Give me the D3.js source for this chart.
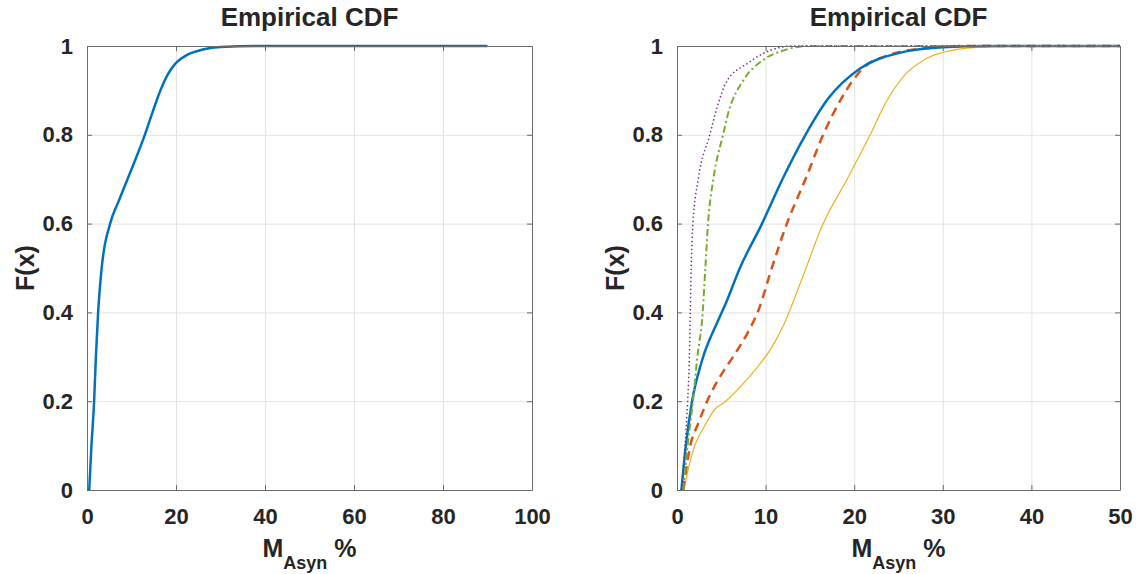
<!DOCTYPE html>
<html>
<head>
<meta charset="utf-8">
<script src="https://cdn.jsdelivr.net/npm/d3@7"></script>
<style>
  body { margin: 0; background: #fff; }
  svg text { font-family: "Liberation Sans", Arial, sans-serif; font-weight: bold; fill: #262626; }
  .grid line { stroke: #e3e3e3; stroke-width: 1; }
  .grid path { stroke: none; }
  .axis path, .axis line { stroke: #6b6b6b; }
  .axis text { font-size: 22px; }
</style>
</head>
<body>
<div id="chart"></div>
<script>
// ---- data: [x, F(x)] ----
var yTicks = [0, 0.2, 0.4, 0.6, 0.8, 1];
var xTicksLeft = [0, 20, 40, 60, 80, 100];
var xTicksRight = [0, 10, 20, 30, 40, 50];

var cdfAll = [[0.5,0],[1.0,0.1],[1.6,0.2],[2.0,0.3],[2.5,0.4],[3.3,0.5],[5.2,0.6],[7.1,0.65],[9.1,0.7],
  [11.1,0.75],[13,0.8],[14.7,0.85],[16.5,0.9],[18.1,0.935],[20,0.962],[22.5,0.98],[26,0.992],[30,0.998],[40,1],[90,1]];

var cdfBlue = [[0.5,0],[1.0,0.1],[1.7,0.2],[2.8,0.29],[4.6,0.38],[5.5,0.42],[7.1,0.5],[9.6,0.6],[11.9,0.7],
  [14.5,0.8],[17,0.88],[20.7,0.95],[25,0.984],[30,0.997],[35,1],[50,1]];
var cdfRed = [[0.7,0],[1.5,0.1],[2.4,0.15],[3.4,0.2],[5,0.26],[6.5,0.305],[8,0.355],[9.2,0.405],[10.7,0.5],
  [12.4,0.6],[14.5,0.7],[16.5,0.8],[18.5,0.88],[21,0.95],[24,0.98],[28,0.995],[32,1],[50,1]];
var cdfYellow = [[0.8,0],[1.3,0.05],[2,0.1],[3,0.14],[4.2,0.18],[5.5,0.2],[7.5,0.24],[9,0.275],[10.5,0.315],
  [12,0.37],[14,0.47],[16.5,0.6],[19.2,0.7],[21.8,0.8],[23.5,0.87],[25.5,0.93],[28,0.97],[31,0.99],[35,0.998],[40,1],[50,1]];
var cdfPurple = [[0.5,0],[0.9,0.1],[1.2,0.2],[1.4,0.3],[1.5,0.4],[1.6,0.5],[1.8,0.6],[2.4,0.7],[3.7,0.8],
  [4.5,0.86],[5.6,0.92],[7.9,0.96],[10.5,0.99],[13,1],[50,1]];
var cdfGreen = [[0.7,0],[1.2,0.1],[1.8,0.2],[2.3,0.3],[2.9,0.4],[3.2,0.5],[3.5,0.6],[4.1,0.7],[5.2,0.8],
  [5.8,0.85],[7.5,0.923],[9.7,0.968],[12,0.99],[15,1],[50,1]];

var W = 1141, H = 574;
var svg = d3.select('#chart').append('svg').attr('width', W).attr('height', H);

function drawPanel(opts) {
    var left = opts.left, right = opts.right, top = 46, bottom = 490;
    var x = d3.scaleLinear().domain(opts.xDomain).range([left, right]);
    var y = d3.scaleLinear().domain([0, 1]).range([bottom, top]);

    // grid
    svg.append('g').attr('class', 'grid')
        .attr('transform', 'translate(0,' + bottom + ')')
        .call(d3.axisBottom(x).tickValues(opts.xTicks).tickSize(-(bottom - top)).tickFormat(''));
    svg.append('g').attr('class', 'grid')
        .attr('transform', 'translate(' + left + ',0)')
        .call(d3.axisLeft(y).tickValues(yTicks).tickSize(-(right - left)).tickFormat(''));

    var line = d3.line()
        .x(function(d) { return x(d[0]); })
        .y(function(d) { return y(d[1]); })
        .curve(d3.curveMonotoneX);

    opts.series.forEach(function(s) {
        svg.append('path')
            .datum(s.data)
            .attr('fill', 'none')
            .attr('stroke', s.color)
            .attr('stroke-width', s.width)
            .attr('stroke-dasharray', s.dash || null)
            .attr('stroke-linejoin', 'round')
            .attr('d', line);
    });

    // axes (ticks pointing inward) + box
    var ax = svg.append('g').attr('class', 'axis')
        .attr('transform', 'translate(0,' + bottom + ')')
        .call(d3.axisBottom(x).tickValues(opts.xTicks).tickSizeInner(-5).tickSizeOuter(0));
    ax.selectAll('text').attr('dy', '0.35em').attr('y', 26);
    svg.append('g').attr('class', 'axis')
        .attr('transform', 'translate(' + left + ',0)')
        .call(d3.axisLeft(y).tickValues(yTicks).tickSizeInner(-5).tickSizeOuter(0).tickPadding(14)
            .tickFormat(d3.format('')));
    svg.append('g').attr('class', 'axis')
        .attr('transform', 'translate(0,' + top + ')')
        .call(d3.axisTop(x).tickValues(opts.xTicks).tickSizeInner(-5).tickSizeOuter(0).tickFormat(''));
    svg.append('g').attr('class', 'axis')
        .attr('transform', 'translate(' + right + ',0)')
        .call(d3.axisRight(y).tickValues(yTicks).tickSizeInner(-5).tickSizeOuter(0).tickFormat(''));

    var cx = (left + right) / 2;
    svg.append('text').attr('x', cx).attr('y', 26).attr('text-anchor', 'middle')
        .style('font-size', '26px').text('Empirical CDF');

    svg.append('text')
        .attr('transform', 'translate(' + (left - 62) + ',' + ((top + bottom) / 2) + ') rotate(-90)')
        .attr('text-anchor', 'middle').attr('dominant-baseline', 'central')
        .style('font-size', '25px').text('F(x)');

    var xl = svg.append('text').attr('x', cx).attr('y', 557).attr('text-anchor', 'middle')
        .style('font-size', '25px');
    xl.append('tspan').text('M');
    xl.append('tspan').attr('dy', 12).style('font-size', '18px').text('Asyn');
    xl.append('tspan').attr('dy', -12).text(' %');
}

drawPanel({
    left: 87, right: 532, xDomain: [0, 100], xTicks: xTicksLeft,
    series: [{ data: cdfAll, color: '#0072BD', width: 2.5 }]
});

drawPanel({
    left: 677, right: 1120, xDomain: [0, 50], xTicks: xTicksRight,
    series: [
        { data: cdfYellow, color: '#EDB120', width: 1.2 },
        { data: cdfRed, color: '#D95319', width: 2.5, dash: '9,6' },
        { data: cdfBlue, color: '#0072BD', width: 2.5 },
        { data: cdfGreen, color: '#77AC30', width: 2, dash: '7,3,2,3' },
        { data: cdfPurple, color: '#7E2F8E', width: 1.5, dash: '1.5,2.5' }
    ]
});
</script>
</body>
</html>
